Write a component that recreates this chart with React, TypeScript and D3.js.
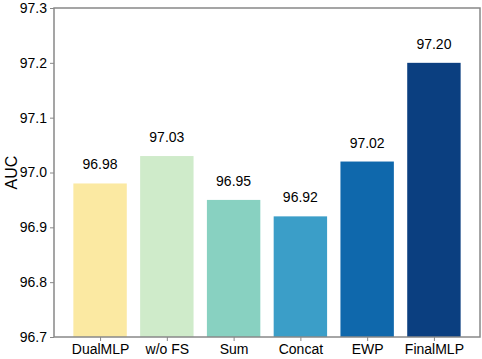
import React, { useEffect, useRef } from 'react';
import * as d3 from 'd3';

const models = ['DualMLP', 'w/o FS', 'Sum', 'Concat', 'EWP', 'FinalMLP'];
const auc = [96.98, 97.03, 96.95, 96.92, 97.02, 97.2];
const colors = ['#fbe9a2', '#cfebca', '#88d1c1', '#3b9ec8', '#0f68ac', '#0b3f80'];
const yTicks = [96.7, 96.8, 96.9, 97.0, 97.1, 97.2, 97.3];

export default function App() {
  const ref = useRef<SVGSVGElement>(null);

  useEffect(() => {
    const svg = d3.select(ref.current);
    svg.selectAll('*').remove();

    const margin = { top: 8, right: 2, bottom: 22, left: 54 };
    const width = 482 - margin.left - margin.right;
    const height = 359 - margin.top - margin.bottom;
    const font = 'Liberation Sans, Arial, Helvetica, sans-serif';

    const g = svg.append('g').attr('transform', `translate(${margin.left},${margin.top})`);

    const x = d3.scaleLinear().domain([-0.69, models.length - 1 + 0.69]).range([0, width]);
    const bw = x(0.4) - x(-0.4);
    const y = d3.scaleLinear().domain([96.7, 97.3]).range([height, 0]);

    // bars
    g.selectAll('rect.bar')
      .data(auc)
      .join('rect')
      .attr('class', 'bar')
      .attr('x', (d, i) => x(i) - bw / 2)
      .attr('y', d => y(d))
      .attr('width', bw)
      .attr('height', d => height - y(d))
      .attr('fill', (d, i) => colors[i]);

    // value labels
    g.selectAll('text.val')
      .data(auc)
      .join('text')
      .attr('class', 'val')
      .attr('x', (d, i) => x(i))
      .attr('y', d => y(d) - 14)
      .attr('text-anchor', 'middle')
      .attr('font-family', font)
      .attr('font-size', 14)
      .attr('fill', '#000')
      .text(d => d.toFixed(2));

    // y axis
    const yAxis = d3.axisLeft(y).tickValues(yTicks).tickFormat(d3.format('.1f')).tickSize(4).tickPadding(3);
    g.append('g')
      .call(yAxis)
      .call(a => a.select('.domain').remove())
      .call(a => a.selectAll('line').attr('stroke', '#888'))
      .call(a => a.selectAll('text').attr('font-family', font).attr('font-size', 14).attr('fill', '#000'));

    // x axis
    const xAxis = d3.axisBottom(x).tickValues(d3.range(models.length)).tickFormat((d: any) => models[d]).tickSize(4).tickPadding(3);
    g.append('g')
      .attr('transform', `translate(0,${height})`)
      .call(xAxis)
      .call(a => a.select('.domain').remove())
      .call(a => a.selectAll('line').attr('stroke', '#888'))
      .call(a => a.selectAll('text').attr('font-family', font).attr('font-size', 14).attr('fill', '#000'));

    // frame
    g.append('rect')
      .attr('x', 0)
      .attr('y', 0)
      .attr('width', width)
      .attr('height', height)
      .attr('fill', 'none')
      .attr('stroke', '#888')
      .attr('stroke-width', 1.5);

    // y label
    svg.append('text')
      .attr('transform', `translate(17,${margin.top + height / 2}) rotate(-90)`)
      .attr('text-anchor', 'middle')
      .attr('font-family', font)
      .attr('font-size', 16)
      .attr('fill', '#000')
      .text('AUC');
  }, []);

  return (
    <svg ref={ref} width={482} height={359} style={{ position: 'absolute', left: 0, top: 0, background: '#fff' }} />
  );
}
